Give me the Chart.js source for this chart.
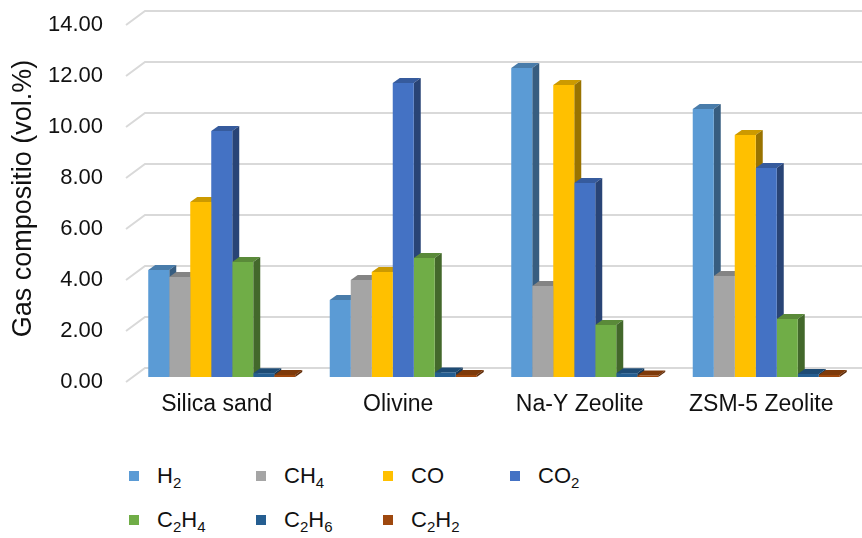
<!DOCTYPE html>
<html>
<head>
<meta charset="utf-8">
<script src="https://cdn.jsdelivr.net/npm/chart.js@4.4.0/dist/chart.umd.min.js"></script>
<style>
  html, body { margin: 0; padding: 0; background: #fff; }
  #wrap { position: relative; width: 862px; height: 538px; font-family: 'Liberation Sans', Arial, sans-serif; }
  #chart { position: absolute; left: 0; top: 0; }
  #legend { position: absolute; left: 129px; top: 463px; width: 700px; }
  .item { position: absolute; display: flex; align-items: center; font-size: 22px; color: #111; white-space: nowrap; }
  .box { width: 10px; height: 10px; margin-right: 18px; }
  .item sub { font-size: 15px; vertical-align: -5px; line-height: 0; }
</style>
</head>
<body>
<div id="wrap">
  <canvas id="chart" width="862" height="440"></canvas>
  <div id="legend"></div>
</div>
<script>
const categories = ['Silica sand', 'Olivine', 'Na-Y Zeolite', 'ZSM-5 Zeolite'];
const gases = ['H2', 'CH4', 'CO', 'CO2', 'C2H4', 'C2H6', 'C2H2'];
const colors = ['#5B9BD5', '#A5A5A5', '#FFC000', '#4472C4', '#70AD47', '#255E91', '#9E480E'];

const h2 = [4.20, 3.02, 12.12, 10.51];
const ch4 = [3.92, 3.80, 3.57, 3.96];
const co = [6.86, 4.12, 11.45, 9.49];
const co2 = [9.65, 11.53, 7.61, 8.20];
const c2h4 = [4.51, 4.67, 2.04, 2.27];
const c2h6 = [0.15, 0.18, 0.15, 0.12];
const c2h2 = [0.08, 0.08, 0.06, 0.08];
const series = [h2, ch4, co, co2, c2h4, c2h6, c2h2];

const yTicks = [0, 2, 4, 6, 8, 10, 12, 14];

const FONT = "'Liberation Sans', Arial, sans-serif";
const DEPTH_X = 7, DEPTH_Y = 5;

function shade(hex, f) {
    const n = parseInt(hex.slice(1), 16);
    const r = Math.round(((n >> 16) & 255) * f);
    const g = Math.round(((n >> 8) & 255) * f);
    const b = Math.round((n & 255) * f);
    return `rgb(${r},${g},${b})`;
}

// gridlines with a slanted floor edge + bar tops and sides
const depthPlugin = {
    id: 'depth',
    beforeDatasetsDraw(chart) {
        const ctx = chart.ctx;
        const y = chart.scales.y;
        const area = chart.chartArea;
        ctx.save();
        ctx.strokeStyle = '#d9d9d9';
        ctx.lineWidth = 2;
        yTicks.forEach(v => {
            const py = y.getPixelForValue(v);
            ctx.beginPath();
            ctx.moveTo(area.left - 5, py + 5);
            ctx.lineTo(area.left + 14, py - 9);
            ctx.lineTo(chart.width, py - 9);
            ctx.stroke();
        });

        chart.data.datasets.forEach((ds, i) => {
            const meta = chart.getDatasetMeta(i);
            meta.data.forEach(bar => {
                const w = bar.width;
                const xl = bar.x - w / 2, xr = bar.x + w / 2;
                // top face
                ctx.fillStyle = shade(colors[i], 0.8);
                ctx.beginPath();
                ctx.moveTo(xl, bar.y);
                ctx.lineTo(xr, bar.y);
                ctx.lineTo(xr + DEPTH_X, bar.y - DEPTH_Y);
                ctx.lineTo(xl + DEPTH_X, bar.y - DEPTH_Y);
                ctx.closePath();
                ctx.fill();
                // side face
                ctx.fillStyle = shade(colors[i], 0.6);
                ctx.beginPath();
                ctx.moveTo(xr, bar.y);
                ctx.lineTo(xr + DEPTH_X, bar.y - DEPTH_Y);
                ctx.lineTo(xr + DEPTH_X, bar.base - DEPTH_Y);
                ctx.lineTo(xr, bar.base);
                ctx.closePath();
                ctx.fill();
            });
        });
        ctx.restore();
    }
};

const chart = new Chart(document.getElementById('chart'), {
    type: 'bar',
    data: {
        labels: categories,
        datasets: gases.map((g, i) => ({
            label: g,
            data: series[i],
            backgroundColor: colors[i],
            borderWidth: 0,
            categoryPercentage: 0.81,
            barPercentage: 1
        }))
    },
    options: {
        responsive: false,
        animation: false,
        layout: { padding: { top: 20, right: 5, left: 0, bottom: 0 } },
        plugins: {
            legend: { display: false },
            tooltip: { enabled: false }
        },
        scales: {
            x: {
                grid: { display: false, drawTicks: false },
                border: { display: false },
                ticks: {
                    color: '#111',
                    font: { family: FONT, size: 23 },
                    padding: 14,
                    labelOffset: -5,
                    maxRotation: 0
                },
                afterFit(scale) {
                    scale.height = 63;
                    scale.paddingLeft = 0;
                    scale.paddingRight = 0;
                }
            },
            y: {
                min: 0,
                max: 14,
                grid: { display: false, drawTicks: false },
                border: { display: false },
                afterBuildTicks(scale) { scale.ticks = yTicks.map(v => ({ value: v })); },
                ticks: {
                    color: '#111',
                    font: { family: FONT, size: 22 },
                    padding: 28,
                    labelOffset: 5,
                    callback: v => v.toFixed(2)
                },
                title: {
                    display: true,
                    text: 'Gas compositio (vol.%)',
                    color: '#111',
                    font: { family: FONT, size: 27 },
                    padding: { top: 7, bottom: 0 }
                },
                afterFit(scale) {
                    scale.width = 131;
                    scale.paddingTop = 0;
                    scale.paddingBottom = 0;
                }
            }
        }
    },
    plugins: [depthPlugin]
});

// legend with real subscripts, 4 per row
const legend = document.getElementById('legend');
chart.data.datasets.forEach((ds, i) => {
    const item = document.createElement('div');
    item.className = 'item';
    item.style.left = (i % 4) * 127 + 'px';
    item.style.top = Math.floor(i / 4) * 44 + 'px';
    item.innerHTML = `<span class="box" style="background:${ds.backgroundColor}"></span>` +
        `<span>${ds.label.replace(/(\d)/g, '<sub>$1</sub>')}</span>`;
    legend.appendChild(item);
});
</script>
</body>
</html>
